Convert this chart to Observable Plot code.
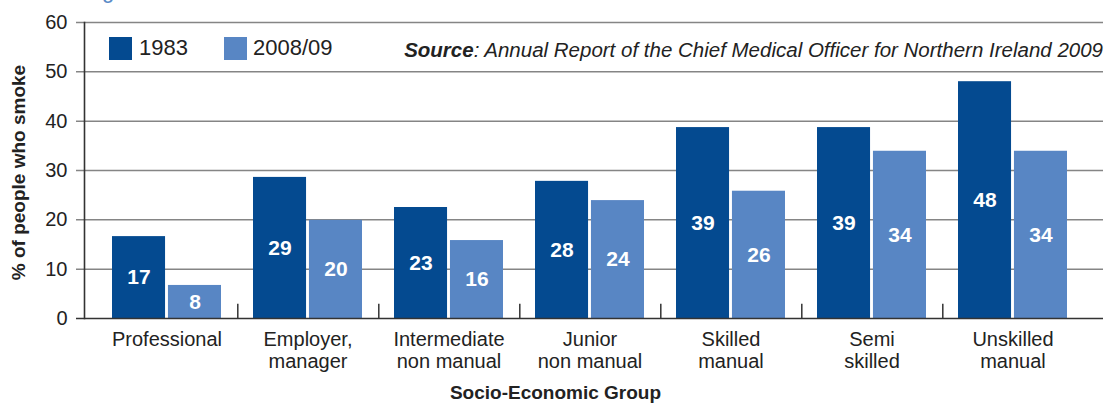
<!DOCTYPE html>
<html><head><meta charset="utf-8">
<script src="https://cdn.jsdelivr.net/npm/d3@7"></script>
<script src="https://cdn.jsdelivr.net/npm/@observablehq/plot@0.6"></script>
<style>
body{margin:0;background:#fff;font-family:"Liberation Sans",Arial,sans-serif;}
#wrap{position:relative;width:1106px;height:403px;overflow:hidden;background:#fff;}
.ov{position:absolute;white-space:nowrap;color:#222;}
.sw{position:absolute;width:23px;height:23px;}
svg{display:block;}
</style></head><body><div id="wrap"></div>
<script>
const categories = ["Professional","Employer, manager","Intermediate non manual","Junior non manual","Skilled manual","Semi skilled","Unskilled manual"];
const categoryLabels = ["Professional","Employer,\nmanager","Intermediate\nnon manual","Junior\nnon manual","Skilled\nmanual","Semi\nskilled","Unskilled\nmanual"];
const series = ["1983","2008/09"];
const values1983 = [16.6, 28.6, 22.5, 27.8, 38.7, 38.7, 48.0];
const values2008 = [6.7, 19.9, 15.8, 23.9, 25.8, 33.9, 33.9];
const labels1983 = [17, 29, 23, 28, 39, 39, 48];
const labels2008 = [8, 20, 16, 24, 26, 34, 34];
const yTicks = [0, 10, 20, 30, 40, 50, 60];
const colors = ["#044a90", "#5886c4"];

const rows1983 = categories.map((c, i) => ({category: c, series: series[0], value: values1983[i], label: labels1983[i]}));
const rows2008 = categories.map((c, i) => ({category: c, series: series[1], value: values2008[i], label: labels2008[i]}));

const W = 1106, H = 403, ML = 84, MR = 3, MT = 22, MB = 85;
const padOuter = 0.098;
const step = (W - ML - MR) / (categories.length + 2 * padOuter);
const outerInset = 16, gap = 2.3;
const barW = (step - 2 * outerInset - gap) / 2;
const innerInset = step - outerInset - barW;
const labelOffset = step / 2 - outerInset - barW / 2;
const font = "Liberation Sans, Arial, sans-serif";

const chart = Plot.plot({
  width: W, height: H,
  marginLeft: ML, marginRight: MR, marginTop: MT, marginBottom: MB,
  style: {fontFamily: font, background: "white", overflow: "visible"},
  x: {domain: categories, paddingInner: 0, paddingOuter: padOuter, align: 0.36, axis: null},
  y: {domain: [0, 60], axis: null},
  marks: [
    Plot.ruleY(yTicks.slice(1), {y: d => d, stroke: "#858585", strokeWidth: 1.5, insetLeft: -8}),
    Plot.barY(rows1983, {x: "category", y: "value", fill: colors[0], insetLeft: outerInset, insetRight: innerInset}),
    Plot.barY(rows2008, {x: "category", y: "value", fill: colors[1], insetLeft: innerInset, insetRight: outerInset}),
    Plot.text(rows1983, {x: "category", y: d => d.value / 2, text: "label", dx: -labelOffset, fill: "white", fontWeight: "bold", fontSize: 21}),
    Plot.text(rows2008, {x: "category", y: d => d.value / 2, text: "label", dx: labelOffset, fill: "white", fontWeight: "bold", fontSize: 21}),
    Plot.ruleY([0], {stroke: "#333", strokeWidth: 1.6, insetLeft: -8}),
    Plot.ruleX(categories.slice(0, -1), {x: d => d, y1: 0, y2: 2.9, dx: step / 2, stroke: "#333", strokeWidth: 1.5}),
    Plot.frame({anchor: "left", stroke: "#333", strokeWidth: 1.6}),
    Plot.axisY({ticks: yTicks, tickSize: 0, tickPadding: 17, fontSize: 20, color: "#222", label: null}),
    Plot.text(categories, {x: d => d, frameAnchor: "bottom", text: (d, i) => categoryLabels[i], lineAnchor: "top", dy: 12, fontSize: 20, lineHeight: 1.1, fill: "#222"}),
    Plot.text(["% of people who smoke"], {frameAnchor: "left", text: d => d, rotate: -90, textAnchor: "middle", dx: -66, dy: 2, fontWeight: "bold", fontSize: 19, fill: "#222"}),
    Plot.text(["Socio-Economic Group"], {frameAnchor: "bottom", text: d => d, lineAnchor: "top", dy: 67, dx: 555 - (ML + (W - MR)) / 2, fontWeight: "bold", fontSize: 19, fill: "#222"})
  ]
});

const wrap = document.getElementById("wrap");
wrap.appendChild(chart);

function ov(html, style) {
  const d = document.createElement("div");
  d.className = "ov";
  d.innerHTML = html;
  Object.assign(d.style, style);
  wrap.appendChild(d);
  return d;
}
ov("Percentage of smokers", {left: "14px", top: "-20px", fontSize: "22px", lineHeight: "22px", color: "#5a8ac6"});
// legend
series.forEach((s, i) => {
  const sw = document.createElement("div");
  sw.className = "sw";
  sw.style.left = (i === 0 ? 109 : 224) + "px";
  sw.style.top = "37px";
  sw.style.background = colors[i];
  wrap.appendChild(sw);
  ov(s, {left: (i === 0 ? 139 : 253) + "px", top: "36.5px", fontSize: "22px", lineHeight: "22px"});
});
ov("<b>Source</b>: Annual Report of the Chief Medical Officer for Northern Ireland 2009", {right: "3px", top: "40px", fontSize: "20.5px", lineHeight: "20px", fontStyle: "italic"});
</script>
</body></html>
